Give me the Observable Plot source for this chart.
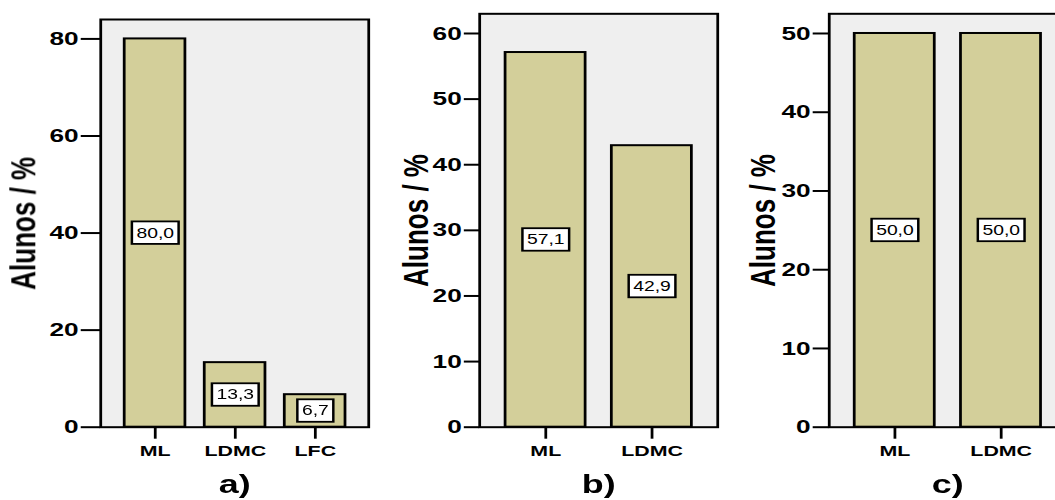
<!DOCTYPE html>
<html>
<head>
<meta charset="utf-8">
<script src="https://cdn.jsdelivr.net/npm/d3@7"></script>
<script src="https://cdn.jsdelivr.net/npm/@observablehq/plot@0.6"></script>
<style>
  html, body { margin: 0; padding: 0; background: #fff; overflow: hidden; width: 1055px; height: 500px; }
  /* the three panels are laid out side by side, then widened horizontally as a whole */
  #wrap { display: flex; flex-wrap: nowrap; transform: scaleX(1.38); transform-origin: 0 0; }
  #wrap svg { flex: none; display: block; }
</style>
</head>
<body>
<div id="wrap"></div>
<script>
// Percentage of students per category, one group per panel
const yLabel = "Alunos / %";

const catsA = ["ML", "LDMC", "LFC"];
const valsA = [80.0, 13.3, 6.7];
const ticksA = [0, 20, 40, 60, 80];

const catsB = ["ML", "LDMC"];
const valsB = [57.1, 42.9];
const ticksB = [0, 10, 20, 30, 40, 50, 60];

const catsC = ["ML", "LDMC"];
const valsC = [50.0, 50.0];
const ticksC = [0, 10, 20, 30, 40, 50];

const panelLabels = ["a)", "b)", "c)"];

const barFill = "#d3cf9a";
const plotBg = "#efefef";
const fontFamily = "'Liberation Sans', Arial, sans-serif";
const fmt = v => v.toFixed(1).replace(".", ",");

// text width measurement for the boxed value labels
const measureCtx = document.createElement("canvas").getContext("2d");
function textWidth(str, size) {
  measureCtx.font = `${size}px ${fontFamily}`;
  return measureCtx.measureText(str).width;
}

// draws a white box with a black outline behind each value label
function boxedLabels(index, scales, values, dimensions, context, next) {
  const g = next(index, scales, values, dimensions, context);
  const texts = g.querySelectorAll("text");
  const ns = "http://www.w3.org/2000/svg";
  let k = 0;
  for (const i of index) {
    const t = texts[k++];
    if (!t) continue;
    const str = t.textContent;
    const w = textWidth(str, 14) + 6.6;
    const h = 22.5;
    const r = document.createElementNS(ns, "rect");
    r.setAttribute("x", values.x[i] - w / 2);
    r.setAttribute("y", values.y[i] - h / 2 - 0.4);
    r.setAttribute("width", w);
    r.setAttribute("height", h);
    r.setAttribute("fill", "#fff");
    r.setAttribute("stroke", "#000");
    r.setAttribute("stroke-width", 1.8);
    g.insertBefore(r, t);
  }
  return g;
}

function panel(cats, vals, ticks, label, layout) {
  const data = cats.map((c, i) => ({cat: c, val: vals[i]}));
  return Plot.plot({
    width: layout.width,
    height: 500,
    marginTop: layout.marginTop,
    marginBottom: 73.3,
    marginLeft: layout.marginLeft,
    marginRight: layout.marginRight,
    style: {fontFamily, background: "#fff", color: "#000", overflow: "visible"},
    x: {domain: cats, paddingInner: layout.pi, paddingOuter: layout.po},
    y: {domain: [0, layout.yTop]},
    marks: [
      Plot.frame({fill: plotBg}),
      Plot.barY(data, {x: "cat", y: "val", fill: barFill, stroke: "#000", strokeWidth: 2}),
      Plot.frame({stroke: "#000", strokeWidth: 2}),
      Plot.axisY(ticks, {tickSize: layout.yTickSize, tickPadding: 2, strokeWidth: 2,
        fontSize: 19, fontWeight: "bold", label: null}),
      Plot.axisX({tickSize: 12, tickPadding: 6, strokeWidth: 2,
        fontSize: 15.5, fontWeight: "bold", label: null}),
      Plot.text([yLabel], {frameAnchor: "left", rotate: -90, dx: layout.yLabelDx,
        fontSize: 26, fontWeight: "bold", lineAnchor: "middle", textAnchor: "middle"}),
      Plot.text([label], {frameAnchor: "bottom", dy: 57, fontSize: 26, fontWeight: "bold",
        lineAnchor: "middle"}),
      Plot.text(data, {x: "cat", y: d => d.val / 2, text: d => fmt(d.val), fontSize: 14,
        lineAnchor: "middle", render: boxedLabels})
    ]
  });
}

const wrap = document.getElementById("wrap");
const charts = [
  panel(catsA, valsA, ticksA, panelLabels[0],
    {width: 279, marginTop: 19, marginLeft: 72.5, marginRight: 12.3, pi: 0.25, po: 0.28,
     yTop: 84, yTickSize: 14, yLabelDx: -55.5}),
  panel(catsB, valsB, ticksB, panelLabels[1],
    {width: 253.6, marginTop: 13.3, marginLeft: 68.1, marginRight: 13, pi: 0.243, po: 0.234,
     yTop: 63, yTickSize: 11, yLabelDx: -45.8}),
  panel(catsC, valsC, ticksC, panelLabels[2],
    {width: 252, marginTop: 13.3, marginLeft: 67.4, marginRight: 13, pi: 0.252, po: 0.234,
     yTop: 52.5, yTickSize: 11.5, yLabelDx: -47.8})
];
charts.forEach(c => wrap.appendChild(c));
</script>
</body>
</html>
